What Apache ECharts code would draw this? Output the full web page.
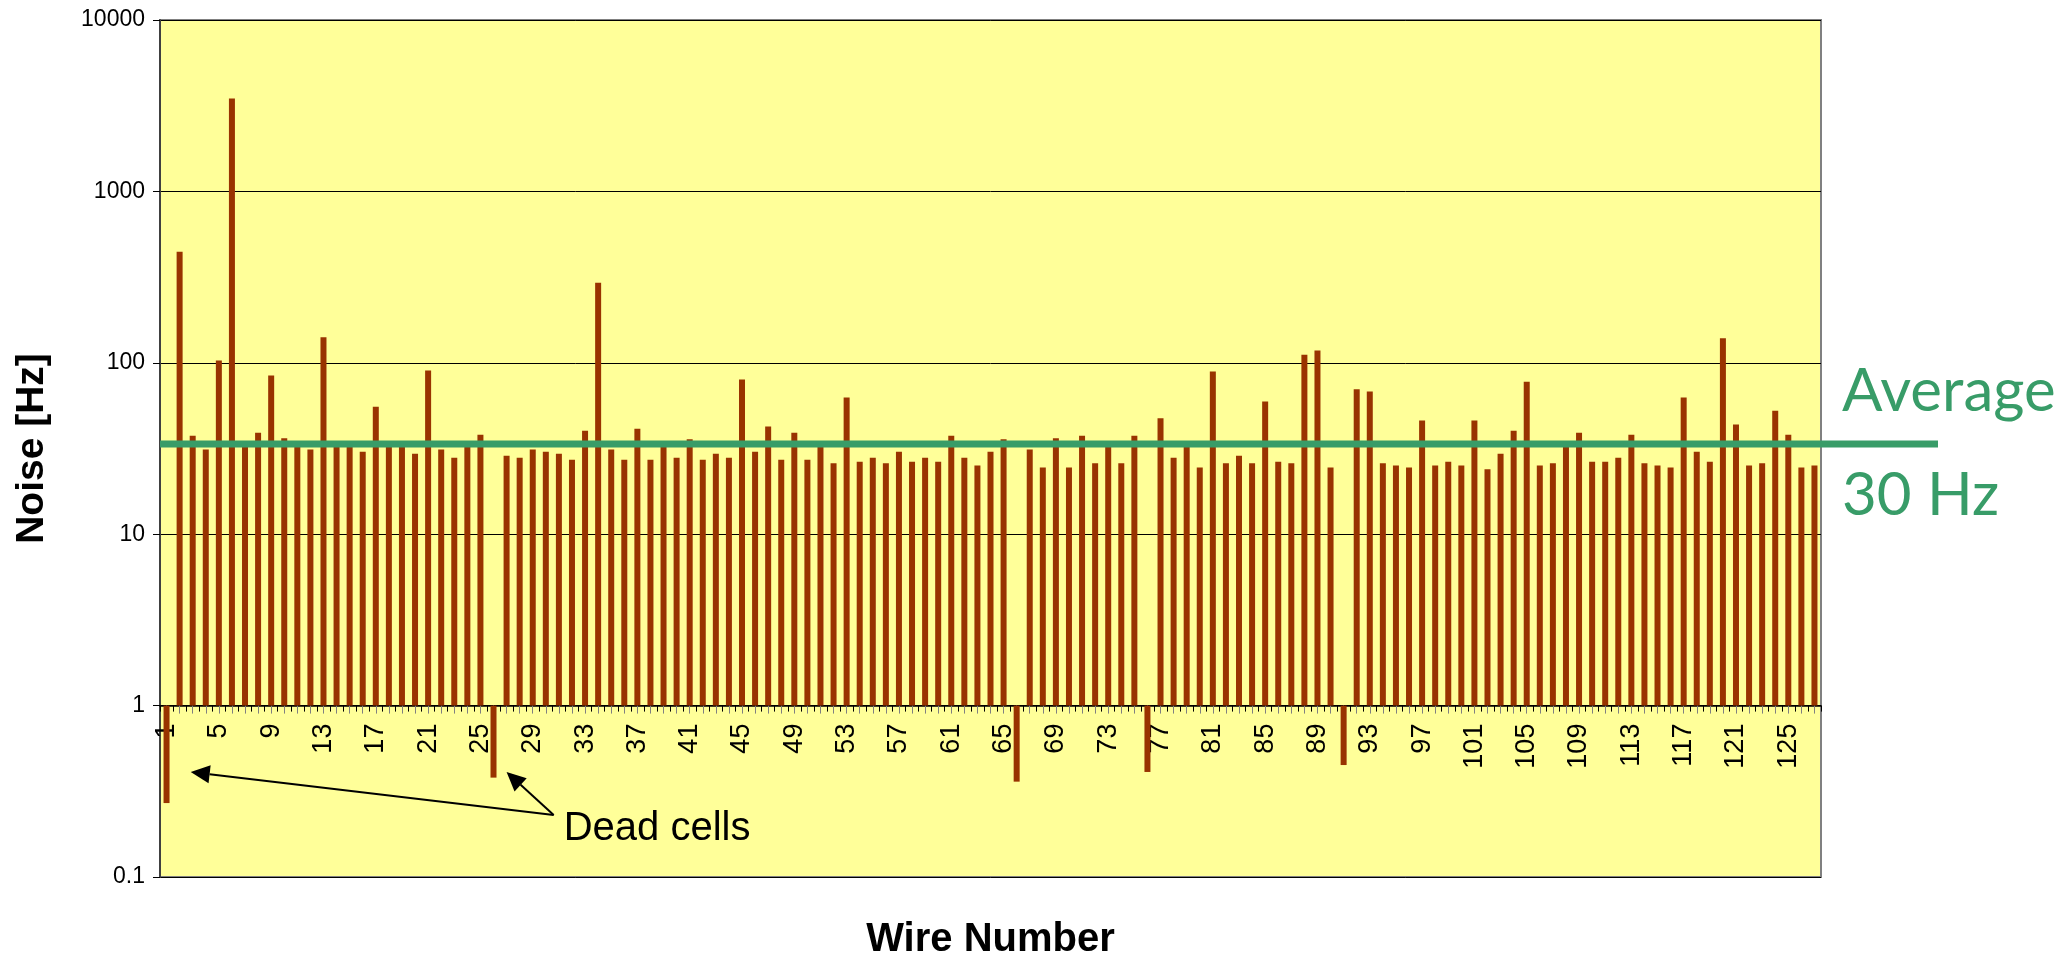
<!DOCTYPE html>
<html><head><meta charset="utf-8">
<script src="https://cdn.jsdelivr.net/npm/echarts@6/dist/echarts.min.js"></script>
<style>html,body{margin:0;padding:0;background:#fff}#c{width:2070px;height:956px}</style>
</head><body><div id="c"></div>
<script>
// ---------- data ----------
const wireNumbers = [];
for (let i = 1; i <= 127; i++) wireNumbers.push(String(i));

const noiseHz = [
  0.27, 445, 37.5, 31.2, 103, 3480, 32.3, 39.1, 84.3, 36.3,
  32.3, 31.2, 141, 32.3, 32.3, 30.3, 55.5, 32.3, 32.3, 29.5,
  90.2, 31.2, 27.9, 32.3, 38.0, 0.38, 28.7, 27.9, 31.2, 30.3,
  29.5, 27.2, 40.2, 293, 31.2, 27.2, 41.3, 27.2, 32.3, 27.9,
  35.8, 27.2, 29.5, 27.9, 79.8, 30.3, 42.5, 27.2, 39.1, 27.2,
  32.3, 25.9, 62.8, 26.5, 27.9, 25.9, 30.3, 26.5, 27.9, 26.5,
  37.5, 27.9, 25.2, 30.3, 35.8, 0.36, 31.2, 24.5, 36.3, 24.5,
  37.5, 25.9, 32.3, 25.9, 37.5, 0.41, 47.4, 27.9, 32.3, 24.5,
  89, 25.9, 28.7, 25.9, 59.4, 26.5, 25.9, 111.6, 117.9, 24.5,
  0.45, 70, 68.1, 25.9, 25.2, 24.5, 46.1, 25.2, 26.5, 25.2,
  46.1, 23.9, 29.5, 40.2, 77.6, 25.2, 25.9, 32.3, 39.1, 26.5,
  26.5, 27.9, 38.0, 25.9, 25.2, 24.5, 62.8, 30.3, 26.5, 139,
  43.6, 25.2, 25.9, 52.5, 38.0, 24.5, 25.2
];

const yTickLabels = ['0.1', '1', '10', '100', '1000', '10000'];
const Y_MIN = 0.1, Y_MAX = 10000;
const AVERAGE_HZ = 33.6;
const averageText = ['Average', '30 Hz'];
const deadCellsText = 'Dead cells';
const xAxisTitle = 'Wire Number';
const yAxisTitle = 'Noise [Hz]';

// ---------- layout ----------
const G = { left: 160, top: 20, width: 1661, height: 857 };
const lg = Math.log10;
const xAxisOffset = -G.height * (lg(1) - lg(Y_MIN)) / (lg(Y_MAX) - lg(Y_MIN));
const BAR_COLOR = '#993300';
const GREEN = '#389C68';

const chart = echarts.init(document.getElementById('c'), null, { renderer: 'canvas' });

chart.setOption({
  backgroundColor: '#ffffff',
  animation: false,
  grid: {
    left: G.left, top: G.top, width: G.width, height: G.height,
    containLabel: false, outerBoundsMode: 'none',
    show: true, backgroundColor: '#FFFF99', borderColor: '#808080', borderWidth: 2
  },
  xAxis: [{
    type: 'category',
    data: wireNumbers,
    position: 'bottom',
    offset: xAxisOffset,
    boundaryGap: true,
    axisLine: { show: true, onZero: false, lineStyle: { color: '#000', width: 1.5 } },
    axisTick: { show: true, interval: 0, alignWithLabel: false, length: 6, lineStyle: { color: '#000', width: 1 } },
    axisLabel: {
      interval: 3, rotate: 90, margin: 18,
      fontFamily: 'Liberation Sans, Arial, sans-serif', fontSize: 27, color: '#000'
    },
    splitLine: { show: false },
    name: xAxisTitle,
    nameLocation: 'middle',
    nameGap: 214,
    nameTextStyle: { fontFamily: 'Liberation Sans, Arial, sans-serif', fontSize: 40, fontWeight: 'bold', color: '#000' }
  }, {
    type: 'category',
    data: wireNumbers,
    position: 'bottom',
    offset: xAxisOffset,
    boundaryGap: true,
    axisLine: { show: false, onZero: false },
    axisTick: { show: true, interval: 0, alignWithLabel: true, length: 8, lineStyle: { color: '#808080', width: 1 } },
    axisLabel: { show: false },
    splitLine: { show: false }
  }],
  yAxis: {
    type: 'log',
    logBase: 10,
    min: Y_MIN,
    max: Y_MAX,
    splitNumber: 5,
    axisLine: { show: true, lineStyle: { color: '#404040', width: 2 } },
    axisTick: { show: true, length: 7, lineStyle: { color: '#000' } },
    axisLabel: {
      margin: 15,
      fontFamily: 'Liberation Sans, Arial, sans-serif', fontSize: 23, color: '#000',
      formatter: function (v) {
        const i = Math.round(lg(v) - lg(Y_MIN));
        return yTickLabels[i] !== undefined ? yTickLabels[i] : String(v);
      }
    },
    splitLine: { show: true, lineStyle: { color: '#000', width: 1 } },
    name: yAxisTitle,
    nameLocation: 'middle',
    nameRotate: 90,
    nameGap: 108,
    nameTextStyle: { fontFamily: 'Liberation Sans, Arial, sans-serif', fontSize: 39, fontWeight: 'bold', color: '#000' }
  },
  series: [{
    type: 'bar',
    data: noiseHz,
    barWidth: 6,
    itemStyle: { color: BAR_COLOR },
    emphasis: { disabled: true }
  }]
});

// ---------- annotations ----------
function yPix(v) { return chart.convertToPixel({ yAxisIndex: 0 }, v); }
function catX(w) { return G.left + (w - 0.5) * G.width / wireNumbers.length; }

function arrow(x1, y1, x2, y2) {
  const dx = x2 - x1, dy = y2 - y1, len = Math.hypot(dx, dy);
  const ux = dx / len, uy = dy / len, nx = -uy, ny = ux;
  const L = 19, W = 9;
  const bx = x2 - ux * L, by = y2 - uy * L;
  return [
    { type: 'line', shape: { x1: x1, y1: y1, x2: bx, y2: by }, style: { stroke: '#000', lineWidth: 2 }, z: 50 },
    { type: 'polygon', shape: { points: [[x2, y2], [bx + nx * W, by + ny * W], [bx - nx * W, by - ny * W]] }, style: { fill: '#000' }, z: 50 }
  ];
}

const avgY = yPix(AVERAGE_HZ);
const vx = catX(30.6), vy = yPix(0.23);
const graphics = []
  .concat(arrow(vx, vy, catX(2.85), yPix(0.41)))
  .concat(arrow(vx, vy, catX(27.0), yPix(0.41)))
  .concat([
    { type: 'line', shape: { x1: G.left, y1: avgY, x2: 1938, y2: avgY }, style: { stroke: GREEN, lineWidth: 7 }, z: 60 },
    { type: 'text', x: 1842, y: avgY - 52, style: { text: averageText[0], font: '60px Lato, "Noto Sans", sans-serif', fill: GREEN, verticalAlign: 'middle', align: 'left' }, z: 60 },
    { type: 'text', x: 1842, y: avgY + 52, style: { text: averageText[1], font: '60px Lato, "Noto Sans", sans-serif', fill: GREEN, verticalAlign: 'middle', align: 'left' }, z: 60 },
    { type: 'text', x: vx + 10, y: vy + 14, style: { text: deadCellsText, font: '40px "Liberation Sans", Arial, sans-serif', fill: '#000', verticalAlign: 'middle', align: 'left' }, z: 60 }
  ]);

chart.setOption({ graphic: graphics });
</script>
</body></html>
